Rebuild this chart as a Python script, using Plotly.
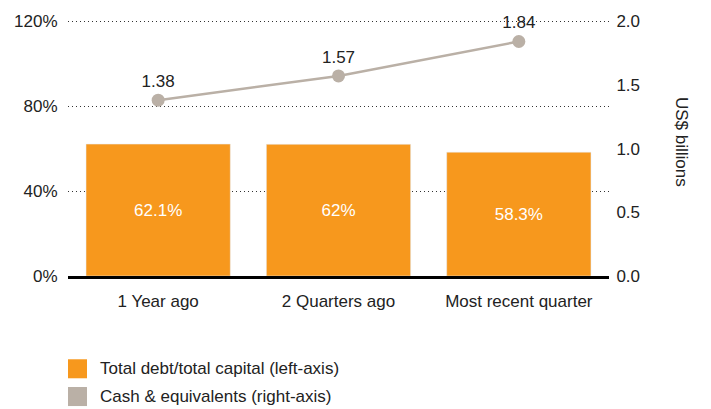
import plotly.graph_objects as go

categories = ["1 Year ago", "2 Quarters ago", "Most recent quarter"]
debt_to_capital = [62.1, 62, 58.3]
cash_equivalents = [1.38, 1.57, 1.84]
left_ticks = [0, 40, 80, 120]
left_tick_labels = ["0%", "40%", "80%", "120%"]
right_ticks = [0, 0.5, 1.0, 1.5, 2.0]
right_tick_labels = ["0.0", "0.5", "1.0", "1.5", "2.0"]

ORANGE = "#f7981d"
GREY = "#bab0a6"
TEXT = "#222222"
FONT = "Liberation Sans, Arial, sans-serif"
FS = 17

fig = go.Figure()
fig.add_trace(go.Bar(
    x=categories, y=debt_to_capital, marker_color=ORANGE,
    text=[f"{v:g}%" for v in debt_to_capital], texttemplate="%{text}",
    textposition="inside", insidetextanchor="middle",
    textfont=dict(color="white", size=FS, family=FONT),
    showlegend=False, yaxis="y", hoverinfo="skip",
))
fig.add_trace(go.Scatter(
    x=categories, y=cash_equivalents, mode="lines+markers+text",
    line=dict(color=GREY, width=2.5), marker=dict(color=GREY, size=13),
    text=[f"{v:.2f}" for v in cash_equivalents], texttemplate="%{text}",
    textposition="top center",
    textfont=dict(color=TEXT, size=FS, family=FONT),
    cliponaxis=False, showlegend=False, yaxis="y2", hoverinfo="skip",
))

top = 121
fig.update_layout(
    width=711, height=409,
    margin=dict(l=68, r=102, t=15, b=133),
    paper_bgcolor="white", plot_bgcolor="white",
    font=dict(family=FONT, color=TEXT, size=FS),
    bargap=0.2,
    xaxis=dict(showline=True, linecolor="black", linewidth=3,
               ticks="outside", ticklen=8, tickcolor="rgba(0,0,0,0)",
               tickfont=dict(size=FS), showgrid=False),
    yaxis=dict(range=[0, top], tickvals=left_ticks, ticktext=left_tick_labels,
               showgrid=True, gridcolor="#333333", griddash="1px,3px", gridwidth=1,
               zeroline=False, ticks="outside", ticklen=6,
               tickcolor="rgba(0,0,0,0)", tickfont=dict(size=FS)),
    yaxis2=dict(range=[0, 2 * top / 120], tickvals=right_ticks,
                ticktext=right_tick_labels,
                overlaying="y", side="right", showgrid=False, zeroline=False,
                ticks="outside", ticklen=3, tickcolor="rgba(0,0,0,0)",
                tickfont=dict(size=FS)),
    annotations=[
        dict(text="US$ billions", xref="paper", yref="paper", x=1.155, y=0.52,
             textangle=90, showarrow=False, font=dict(size=FS, color=TEXT)),
        dict(text="Total debt/total capital (left-axis)", xref="paper", yref="paper",
             x=0.055, y=-0.359, xanchor="left", yanchor="middle", showarrow=False,
             font=dict(size=FS, color=TEXT)),
        dict(text="Cash &amp; equivalents (right-axis)", xref="paper", yref="paper",
             x=0.055, y=-0.467, xanchor="left", yanchor="middle", showarrow=False,
             font=dict(size=FS, color=TEXT)),
    ],
    shapes=[
        dict(type="rect", xref="paper", yref="paper", x0=0, x1=0.0351,
             y0=-0.398, y1=-0.324, fillcolor=ORANGE, line=dict(width=0)),
        dict(type="rect", xref="paper", yref="paper", x0=0, x1=0.0351,
             y0=-0.506, y1=-0.432, fillcolor=GREY, line=dict(width=0)),
    ],
)

fig.write_html("out.html", config={"displayModeBar": False},
               post_script="document.body.style.margin='0';document.body.style.overflow='hidden';")
